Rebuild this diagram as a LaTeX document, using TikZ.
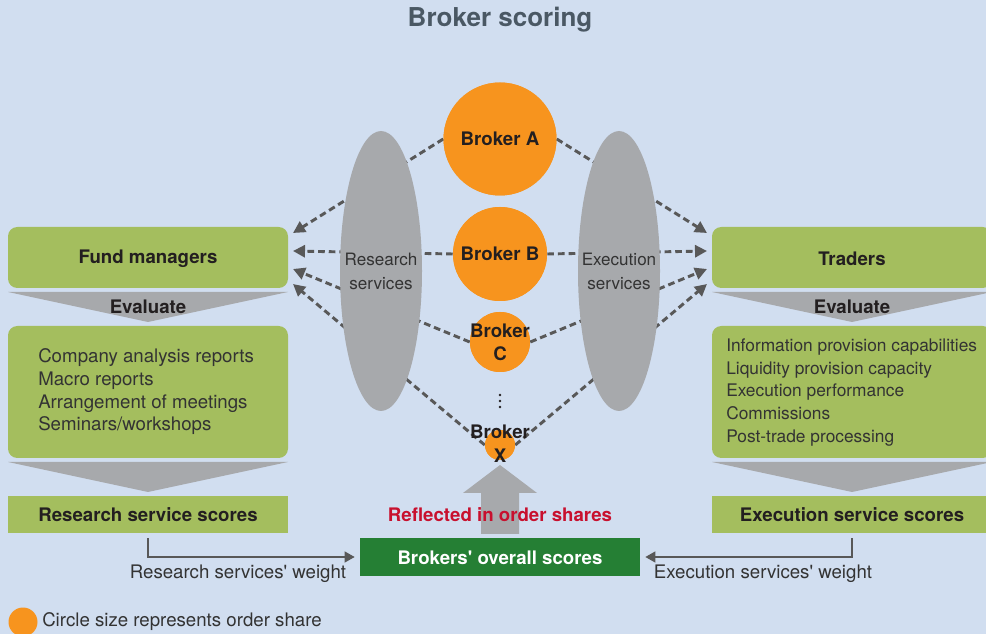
\documentclass[tikz,border=0pt]{standalone}
\usepackage{fontspec}
\setmainfont{TeX Gyre Heros}
\usetikzlibrary{shapes.geometric,arrows.meta}
\definecolor{bgc}{RGB}{209,222,240}
\definecolor{greenc}{RGB}{164,190,94}
\definecolor{dgreen}{RGB}{37,127,52}
\definecolor{grayc}{RGB}{167,169,172}
\definecolor{orangec}{RGB}{247,148,30}
\definecolor{redc}{RGB}{200,16,46}
\definecolor{titlec}{RGB}{74,88,100}
\definecolor{linec}{RGB}{88,88,88}
\definecolor{txtc}{RGB}{51,51,51}
\definecolor{boldc}{RGB}{35,31,32}
\begin{document}
\begin{tikzpicture}[x=0.75pt,y=-0.75pt,
  gbox/.style={fill=greenc,minimum width=210pt,inner sep=0pt},
  btxt/.style={font=\fontsize{14}{17}\selectfont\bfseries,text=boldc,inner sep=0pt},
  ntxt/.style={font=\fontsize{14}{17}\selectfont,text=txtc,inner sep=0pt},
  dasharr/.style={draw=linec,line width=2.2pt,dash pattern=on 5pt off 3pt,
     -{Triangle[length=9pt,width=9pt]}},
  connarr/.style={draw=linec,line width=1.5pt,-{Triangle[length=7.5pt,width=8pt]},
     shorten <=3.75pt,shorten >=3.75pt},
  ell/.style={ellipse,fill=grayc,minimum width=61.5pt,minimum height=210pt,inner sep=0pt},
  elltxt/.style={align=center,font=\fontsize{12.8}{18}\selectfont,text=txtc,inner sep=0pt},
  broker/.style={circle,fill=orangec,inner sep=0pt}
]
\clip (0,0) rectangle (986,634);
\fill[bgc] (0,0) rectangle (986,634);

% title
\node[font=\fontsize{19.5}{22}\selectfont\bfseries,text=titlec] (title) at (500,20) {Broker scoring};

% left column
\node[gbox,rounded corners=7pt,minimum height=45.75pt] (fm) at (148,257.5) {};
\node[btxt] (fmt) at (148,259) {Fund managers};
\fill[grayc] (8,292) -- (288,292) -- (148,322) -- cycle;
\node[btxt] (ev1) at (148,307) {Evaluate};
\node[gbox,rounded corners=7pt,minimum height=99pt] (fmc) at (148,392) {};
\node[ntxt,anchor=west,align=left] (fmct) at (38,392) {Company analysis reports\\Macro reports\\Arrangement of meetings\\Seminars/workshops};
\fill[grayc] (8,462) -- (288,462) -- (148,492) -- cycle;
\node[gbox,minimum height=27.75pt] (rss) at (148,514.5) {};
\node[btxt] (rsst) at (148,515) {Research service scores};

% right column
\node[gbox,rounded corners=7pt,minimum height=45.75pt] (tr) at (852,257.5) {};
\node[btxt] (trt) at (852,259) {Traders};
\fill[grayc] (712,292) -- (992,292) -- (852,322) -- cycle;
\node[btxt] (ev2) at (852,307) {Evaluate};
\node[gbox,rounded corners=7pt,minimum height=99pt] (trc) at (852,392) {};
\node[ntxt,anchor=west,align=left,font=\fontsize{13}{17}\selectfont] (trct) at (726,392.5) {Information provision capabilities\\Liquidity provision capacity\\Execution performance\\Commissions\\Post-trade processing};
\fill[grayc] (712,462) -- (992,462) -- (852,492) -- cycle;
\node[gbox,minimum height=27.75pt] (ess) at (852,514.5) {};
\node[btxt] (esst) at (852,515) {Execution service scores};

% broker circles (shapes only, for anchors)
\node[broker,minimum size=84.75pt] (A) at (500,139) {};
\node[broker,minimum size=70.5pt] (B) at (500,254) {};
\node[broker,minimum size=45pt] (C) at (500,342) {};
\node[broker,minimum size=22.5pt] (X) at (500,445) {};

% arrow end points
\coordinate (l1) at (293,233);
\coordinate (l2) at (293,251);
\coordinate (l3) at (293,269);
\coordinate (l4) at (293,284);
\coordinate (r1) at (707,233);
\coordinate (r2) at (707,251);
\coordinate (r3) at (707,269);
\coordinate (r4) at (707,284);

% dashed arrows
\draw[dasharr] (A.west) -- (l1);
\draw[dasharr] (B.west) -- (l2);
\draw[dasharr] (C.west) -- (l3);
\draw[dasharr] (X.west) -- (l4);
\draw[dasharr] (A.east) -- (r1);
\draw[dasharr] (B.east) -- (r2);
\draw[dasharr] (C.east) -- (r3);
\draw[dasharr] (X.east) -- (r4);

% ellipses
\node[ell] (rs) at (381,271) {};
\node[elltxt] (rst) at (381,271) {Research\\services};
\node[ell] (es) at (619,271) {};
\node[elltxt] (est) at (619,271) {Execution\\services};

% big gray up arrow
\fill[grayc] (481,534) -- (481,493) -- (463,493) -- (500,465) -- (537,493) -- (519,493) -- (519,534) -- cycle;

% circles redrawn on top
\node[broker,minimum size=84.75pt] (A2) at (A) {};
\node[broker,minimum size=70.5pt] (B2) at (B) {};
\node[broker,minimum size=45pt] (C2) at (C) {};
\node[broker,minimum size=22.5pt] (X2) at (X) {};
\node[btxt] (tA) at (A) {Broker A};
\node[btxt] (tB) at (B) {Broker B};
\node[btxt,align=center,font=\fontsize{14}{17.5}\selectfont\bfseries] (tC) at (500,342) {Broker\\C};
\node[btxt,align=center,font=\fontsize{14}{18}\selectfont\bfseries] (tX) at (500,444) {Broker\\X};
\foreach \yy in {395,401,407} \fill[boldc] (500,\yy) circle (1.1pt);

% bottom
\node[btxt,text=redc] (refl) at (500,515) {Reflected in order shares};
\node[fill=dgreen,minimum width=210pt,minimum height=28.5pt,inner sep=0pt] (ovr) at (500,557) {};
\node[btxt,text=white] (ovrt) at (500,558) {Brokers\textquotesingle\ overall scores};

\draw[connarr] (rss.south) |- (ovr.west);
\draw[connarr] (ess.south) |- (ovr.east);
\node[ntxt] (rw) at (238,574) {Research services\textquotesingle\ weight};
\node[ntxt] (ew) at (763,574) {Execution services\textquotesingle\ weight};

% legend
\node[broker,minimum size=21.75pt] (leg) at (23,622) {};
\node[ntxt,anchor=west] (legt) at (42,622) {Circle size represents order share};
\end{tikzpicture}
\end{document}
